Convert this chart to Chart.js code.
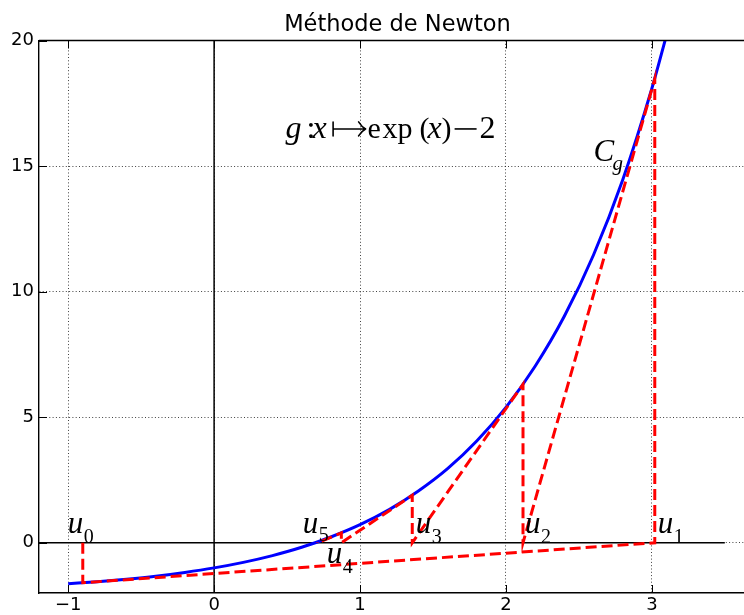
<!DOCTYPE html>
<html><head><meta charset="utf-8">
<script src="https://cdn.jsdelivr.net/npm/chart.js@4.4.1/dist/chart.umd.min.js"></script>
<style>
html,body{margin:0;padding:0;background:#fff;overflow:hidden;width:744px;height:615px}
#wrap{position:absolute;left:0;top:0;width:780px;height:615px}
</style>
</head><body><div id="wrap"><canvas id="c" width="780" height="615"></canvas></div>
<script>
// ---- data ----
const titleText = 'Méthode de Newton';
const curveX = [-1.0,-0.8,-0.6,-0.4,-0.2,0.0,0.2,0.4,0.6,0.8,1.0,1.2,1.4,1.6,1.8,2.0,2.2,2.4,2.6,2.8,3.0,3.1];
const curveY = [-1.63,-1.55,-1.45,-1.33,-1.18,-1.0,-0.78,-0.51,-0.18,0.23,0.72,1.32,2.06,2.95,4.05,5.39,7.03,9.02,11.46,14.45,18.09,20.2];
const newtonU = [-0.9,3.02,2.117,1.358,0.872,0.708];
const newtonG = [-1.59,18.47,6.31,1.89,0.39,0.03];
const uNames = ['0','1','2','3','4','5'];
const hAxisX = [-1.2,3.5], hAxisY = [0,0];
const vAxisX = [0,0], vAxisY = [-2,20];
const xTicks = [-1,0,1,2,3];
const xTickLabels = ['\u22121','0','1','2','3'];
const yTicks = [0,5,10,15,20];
const yTickLabels = ['0','5','10','15','20'];
const xRange = [-1.2,3.7];
const yRange = [-2,20];

const pts = (xs, ys) => xs.map((v,i)=>({x:v,y:ys[i]}));
const newtonPath = [];
newtonU.forEach((u,i)=>{ newtonPath.push({x:u,y:0}); newtonPath.push({x:u,y:newtonG[i]}); });

const annot = {
  id:'annot',
  afterDraw(chart){
    const {ctx, chartArea:ca, scales:{x,y}} = chart;
    ctx.save();
    ctx.strokeStyle='#000';
    ctx.lineWidth=1.4;
    ctx.beginPath(); ctx.moveTo(ca.left, ca.top); ctx.lineTo(ca.right, ca.top); ctx.stroke();
    ctx.lineWidth=1;
    xTicks.forEach(v=>{
      const px=Math.round(x.getPixelForValue(v))+0.5;
      ctx.beginPath(); ctx.moveTo(px,ca.bottom); ctx.lineTo(px,ca.bottom-8);
      ctx.moveTo(px,ca.top); ctx.lineTo(px,ca.top+8); ctx.stroke();
    });
    yTicks.forEach(v=>{
      const py=Math.round(y.getPixelForValue(v))+0.5;
      ctx.beginPath(); ctx.moveTo(ca.left,py); ctx.lineTo(ca.left+8,py); ctx.stroke();
    });
    ctx.fillStyle='#000';
    ctx.textBaseline='alphabetic';
    ctx.textAlign='center';
    ctx.font='22.5px "DejaVu Sans"';
    ctx.fillText(titleText, (ca.left+ca.right)/2+1, 31);
    ctx.textAlign='left';
    // equation
    const ex = x.getPixelForValue(0.49), ey = y.getPixelForValue(16.1);
    const I='italic 32px "Liberation Serif"', R='30px "Liberation Serif"';
    const eq=[['g',0,I],[':',21,'32px "Liberation Serif"'],['x',27,I],['e',82,R],['x',97,R],['p',112,R],['(',134,R],['x',142,I],[')',156,R],['2',194,'32px "Liberation Serif"']];
    eq.forEach(([t,dx,f])=>{ctx.font=f; ctx.fillText(t, ex+dx, ey);});
    // minus sign
    const ay = ey - 9.5;
    ctx.fillRect(ex+169, ay-0.8, 22, 1.6);
    // maps-to arrow
    ctx.lineWidth=1.6; ctx.lineCap='round';
    ctx.beginPath();
    ctx.moveTo(ex+47.5, ay-7); ctx.lineTo(ex+47.5, ay+7);
    ctx.moveTo(ex+47.5, ay); ctx.lineTo(ex+80, ay);
    ctx.moveTo(ex+80, ay); ctx.quadraticCurveTo(ex+76, ay-2, ex+73, ay-7);
    ctx.moveTo(ex+80, ay); ctx.quadraticCurveTo(ex+76, ay+2, ex+73, ay+7);
    ctx.stroke();
    // C_g
    const cx = x.getPixelForValue(2.6), cy = y.getPixelForValue(15.2);
    ctx.font='italic 31px "Liberation Serif"'; ctx.fillText('C', cx, cy);
    ctx.font='italic 21px "Liberation Serif"'; ctx.fillText('g', cx+19, cy+9);
    // u labels
    const dxs=[-15,3,2,3.5,-14.6,-14.7], dys=[-10,-10,-10,-10,20,-10], sdy=[10,10,10,10,10,8];
    newtonU.forEach((u,i)=>{
      const px=x.getPixelForValue(u)+dxs[i], py=y.getPixelForValue(0)+dys[i];
      ctx.font='italic 31px "Liberation Serif"'; ctx.fillText('u', px, py);
      ctx.font='20px "Liberation Serif"'; ctx.fillText(uNames[i], px+16, py+sdy[i]);
    });
    ctx.restore();
  }
};

const tickFont = {family:'DejaVu Sans', size:18};
new Chart(document.getElementById('c'), {
  type:'scatter',
  data:{datasets:[
    {data:newtonPath, showLine:true, borderColor:'#ff0000', borderWidth:3, borderDash:[11,5], pointRadius:0, tension:0, order:0},
    {data:pts(curveX,curveY), showLine:true, borderColor:'#0000ff', borderWidth:3, pointRadius:0, cubicInterpolationMode:'monotone', order:1},
    {data:pts(hAxisX,hAxisY), showLine:true, borderColor:'#000', borderWidth:1.5, pointRadius:0, order:2},
    {data:pts(vAxisX,vAxisY), showLine:true, borderColor:'#000', borderWidth:1.5, pointRadius:0, order:2}
  ]},
  options:{
    responsive:false, animation:false, maintainAspectRatio:false,
    layout:{padding:{top:40.5,right:26,left:0,bottom:0}},
    plugins:{legend:{display:false}, tooltip:{enabled:false}, title:{display:false}},
    scales:{
      x:{type:'linear', min:xRange[0], max:xRange[1],
        afterBuildTicks:s=>{s.ticks=xTicks.map(v=>({value:v}));},
        afterFit:s=>{s.height=22;},
        ticks:{callback:(v,i)=>xTickLabels[i], font:tickFont, color:'#000', padding:2, maxRotation:0, autoSkip:false},
        grid:{color:'rgba(0,0,0,0.75)', lineWidth:1, drawTicks:false},
        border:{display:true, color:'#000', width:1.4, dash:[1,2.3]}},
      y:{type:'linear', min:yRange[0], max:yRange[1],
        afterBuildTicks:s=>{s.ticks=yTicks.map(v=>({value:v}));},
        afterFit:s=>{s.width=39;},
        ticks:{callback:(v,i)=>yTickLabels[i], font:tickFont, color:'#000', padding:5, autoSkip:false},
        grid:{color:'rgba(0,0,0,0.75)', lineWidth:1, drawTicks:false},
        border:{display:true, color:'#000', width:1.4, dash:[1,2.3]}}
    }
  },
  plugins:[annot]
});
</script></body></html>
